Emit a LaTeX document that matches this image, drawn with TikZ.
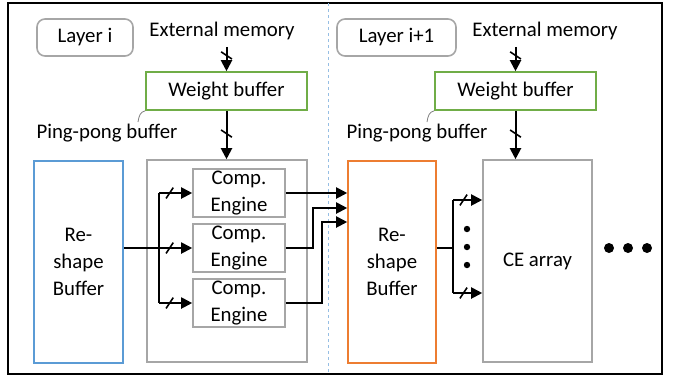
\documentclass[tikz,border=0pt]{standalone}
\usepackage{fontspec}
\setmainfont{Carlito}
\usepackage{xcolor}
\usepackage{tikz}
\usetikzlibrary{arrows.meta}
\usetikzlibrary{calc}
\usetikzlibrary{decorations.markings}
\tikzset{>={Triangle[length=5.5pt,width=5.5pt]}}
\definecolor{boxgray}{RGB}{166,166,166}
\definecolor{wbgreen}{RGB}{112,173,71}
\definecolor{rsblue}{RGB}{91,155,213}
\definecolor{rsorange}{RGB}{237,125,49}
\definecolor{sepblue}{RGB}{150,190,228}
\tikzset{
    every node/.style={font=\fontsize{10.4}{13.5}\selectfont},
    blk/.style={draw=boxgray,line width=0.8pt,inner sep=0pt,align=center},
    wbuf/.style={blk,draw=wbgreen,minimum width=80.5pt,minimum height=19pt},
    tall/.style={blk,minimum height=101pt},
    layer/.style={blk,rounded corners=4pt,minimum height=18.5pt},
    wire/.style={line width=1pt},
    busmark/.style={postaction={decorate},decoration={markings,mark=at position #1 with {\draw[-,line width=0.8pt] (-1.8pt,-2.7pt) -- (1.8pt,2.7pt);}}}
}

\begin{document}
\begin{tikzpicture}[x=0.5pt,y=-0.5pt]
                    \useasboundingbox (0,0) rectangle (673,377);
                    \draw[line width=1pt] (8,3) rectangle (662,374);
                    \draw[sepblue,line width=0.5pt,dash pattern=on 1.5pt off 1.5pt] (328,3) -- (328,374);

                    \node[layer,minimum width=48pt] (layA) at (85,37.5) {Layer i};
                    \node (memA) at (222,31) {External memory};
                    \node[wbuf] (wbA) at (226.5,91) {Weight buffer};
                    \node (ppA) at (107,133) {Ping-pong buffer};
                    \node[tall,draw=rsblue,minimum width=44.5pt] (rsA) at (78.5,262) {Re-\\shape\\Buffer};
                    \node[tall,minimum width=80pt] (peA) at (227,261) {};
                    \foreach \i/\y in {1/193,2/248,3/303}
                        \node[blk,minimum width=46pt,minimum height=24pt] (ce\i) at (239,\y) {Comp.\\Engine};

                    \node[layer,minimum width=59.5pt] (layB) at (396.5,37.5) {Layer i+1};
                    \node (memB) at (545,31) {External memory};
                    \node[wbuf] (wbB) at (515.5,91) {Weight buffer};
                    \node (ppB) at (417,133) {Ping-pong buffer};
                    \node[tall,draw=rsorange,minimum width=44pt] (rsB) at (392,262) {Re-\\shape\\Buffer};
                    \node[tall,minimum width=54.5pt] (arr) at (537.5,261) {CE array};

                    \draw[wire,->,busmark=.35] (wbA.north |- memA.south) -- (wbA.north);
                    \draw[wire,->,busmark=.47] (wbA.south) -- (wbA.south |- peA.north);
                    \draw[wire,->,busmark=.35] (wbB.north |- memB.south) -- (wbB.north);
                    \draw[wire,->,busmark=.47] (wbB.south) -- (wbB.south |- arr.north);
                    \draw[gray,line width=0.4pt] (wbA.south west) .. controls (140,112) and (139,116) .. (138,122);
                    \draw[gray,line width=0.4pt] (wbB.south west) .. controls (429,112) and (428,116) .. (427,122);

                    \coordinate (busA) at (159,248);
                    \draw[wire] (rsA.east |- busA) -- (busA);
                    \draw[wire] (busA |- ce1) -- (busA |- ce3);
                    \foreach \i in {1,2,3}
                        \draw[wire,->,busmark=.32] (busA |- ce\i) -- (ce\i.west);

                    \coordinate (j2) at (313,208);
                    \coordinate (j3) at (322,222);
                    \draw[wire,->] (ce1.east) -- (ce1.east -| rsB.west);
                    \draw[wire,->] (ce2.east) -| (j2) -- (j2 -| rsB.west);
                    \draw[wire,->] (ce3.east) -| (j3) -- (j3 -| rsB.west);

                    \coordinate (busB) at (453,248);
                    \coordinate (t1) at (453,200);
                    \coordinate (t2) at (453,293);
                    \draw[wire] (rsB.east |- busB) -- (busB);
                    \draw[wire] (t1) -- (t2);
                    \draw[wire,->,busmark=.36] (t1) -- (t1 -| arr.west);
                    \draw[wire,->,busmark=.36] (t2) -- (t2 -| arr.west);
                    \foreach \y in {229,247,265}
                        \fill (467,\y) circle (1.6pt);
                    \foreach \x in {609,628,647}
                        \fill (\x,248) circle (2.5pt);
                \end{tikzpicture}
\end{document}
